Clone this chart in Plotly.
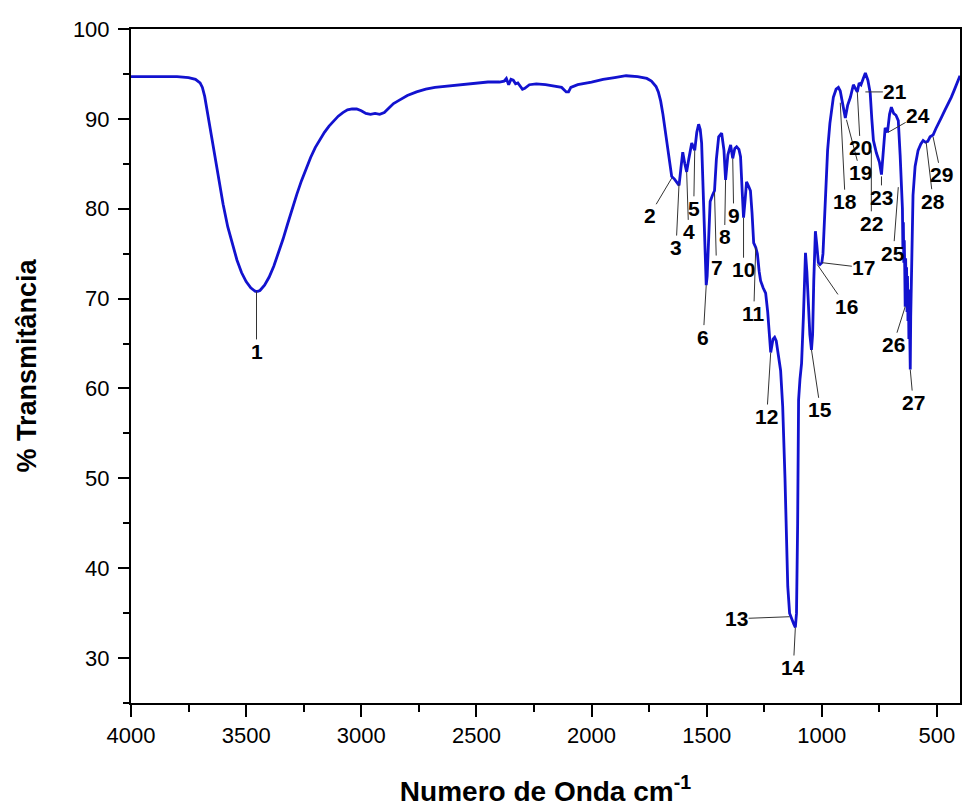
import plotly.graph_objects as go

# ---- spectrum data (wavenumber cm^-1, % transmittance) ----
wavenumber = [4000, 3950, 3900, 3850, 3800, 3750, 3720, 3700, 3690, 3680, 3670, 3660, 3650, 3640,
              3620, 3600, 3580, 3560, 3540, 3520, 3500, 3480, 3460, 3450, 3440, 3420, 3400, 3380,
              3360, 3340, 3320, 3300, 3280, 3260, 3240, 3220, 3200, 3180, 3160, 3140, 3120, 3100,
              3080, 3060, 3040, 3020, 3000, 2980, 2960, 2940, 2920, 2900, 2880, 2860, 2840, 2800,
              2760, 2720, 2680, 2640, 2600, 2560, 2500, 2450, 2400, 2380, 2370, 2360, 2350, 2340,
              2330, 2320, 2300, 2290, 2270, 2240, 2200, 2160, 2130, 2110, 2100, 2090, 2060, 2000,
              1950, 1900, 1850, 1800, 1760, 1740, 1720, 1710, 1700, 1690, 1680, 1670, 1660, 1652,
              1640, 1630, 1620, 1612, 1604, 1595, 1587, 1578, 1565, 1552, 1543, 1535, 1528, 1522,
              1515, 1508, 1502, 1498, 1492, 1485, 1475, 1466, 1458, 1448, 1435, 1425, 1418, 1408,
              1396, 1387, 1378, 1370, 1360, 1353, 1346, 1340, 1333, 1327, 1318, 1310, 1303, 1296,
              1287, 1280, 1272, 1266, 1255, 1244, 1235, 1228, 1222, 1212, 1205, 1198, 1190, 1179,
              1170, 1166, 1160, 1155, 1148, 1140, 1130, 1122, 1115, 1110, 1105, 1101, 1095, 1088,
              1080, 1075, 1071, 1065, 1060, 1052, 1045, 1040, 1035, 1028, 1022, 1015, 1008, 1000,
              995, 985, 975, 965, 950, 938, 928, 920, 910, 898, 888, 876, 863, 852, 846, 838, 830,
              820, 811, 800, 790, 783, 776, 763, 750, 741, 733, 725, 715, 706, 698, 688, 678, 668,
              660, 655, 650, 648, 646, 644, 642, 640, 638, 636, 634, 632, 630, 628, 626, 624, 622,
              620, 618, 616, 614, 612, 608,
              604, 595, 582, 570, 560, 550, 540, 530, 517, 505, 495, 480, 465, 450, 438, 425, 415,
              408, 400]
transmittance = [94.7, 94.7, 94.7, 94.75, 94.7, 94.6, 94.4, 94.0, 93.5, 92.5, 91.2, 89.5, 88.0, 86.5,
                 83.5, 80.5, 78.0, 76.0, 74.3, 72.9, 71.9, 71.2, 70.8, 70.8, 70.9, 71.5, 72.4, 73.6,
                 75.0, 76.6, 78.3, 80.0, 81.6, 83.1, 84.5, 85.7, 86.8, 87.7, 88.5, 89.2, 89.8, 90.3,
                 90.7, 91.0, 91.1, 91.1, 90.9, 90.6, 90.5, 90.6, 90.5, 90.7, 91.2, 91.7, 92.0, 92.6,
                 93.0, 93.3, 93.5, 93.6, 93.7, 93.8, 94.0, 94.1, 94.1, 94.2, 94.5, 93.8, 94.4, 94.3,
                 93.9, 94.0, 93.3, 93.4, 93.8, 93.9, 93.8, 93.6, 93.5, 93.0, 93.0, 93.5, 93.8, 94.1,
                 94.4, 94.6, 94.8, 94.7, 94.5, 94.2, 93.6, 93.0, 92.0, 90.5, 88.8, 87.0, 85.0, 83.6,
                 83.3, 83.0, 82.6, 84.5, 86.3, 85.0, 84.1, 85.5, 87.3, 86.5, 88.5, 89.4, 88.8, 87.3,
                 82.0, 76.0, 71.5, 72.5, 77.0, 80.8, 81.5, 82.0, 85.5, 88.0, 88.4, 86.5, 83.2, 86.0,
                 87.1, 85.6, 86.7, 86.9, 86.6, 85.8, 82.0, 79.0, 81.0, 83.0, 82.5, 82.0, 79.5, 76.2,
                 75.7, 75.0, 73.0, 72.0, 71.2, 70.6, 68.5, 66.0, 64.0, 65.5, 65.7, 65.3, 64.0, 62.0,
                 58.0, 55.4, 50.0, 45.0, 38.0, 35.0, 34.2, 33.8, 33.4, 35.0, 45.0, 58.7, 61.0, 62.8,
                 68.0, 73.0, 75.1, 73.0, 70.0, 66.0, 64.3, 66.0, 72.0, 77.5, 76.0, 74.0, 73.8, 74.0,
                 75.0, 81.8, 86.5, 89.5, 92.4, 93.3, 93.5, 93.1, 91.5, 90.1, 91.5, 92.4, 93.8, 93.3,
                 93.0, 94.0, 93.8, 94.5, 95.1, 94.3, 92.9, 90.0, 87.6, 86.2, 85.2, 83.8, 86.0, 89.0,
                 88.5, 90.5, 91.3, 90.6, 90.4, 89.8, 86.0, 82.9, 80.0, 75.5, 78.5, 74.0, 76.5, 73.5,
                 69.1, 74.5, 70.5, 73.5, 68.5, 72.5, 67.5, 71.0, 65.5,
                 69.5, 64.0, 62.1, 68.0, 72.0, 78.0,
                 81.5, 84.7, 86.5, 87.2, 87.6, 87.4, 87.5, 88.0, 88.2, 88.9, 89.5, 90.2, 91.0, 91.7,
                 92.4, 93.2, 93.9, 94.3, 94.8]

# ---- labelled peaks ----
peak_labels = [str(i) for i in range(1, 30)]
peak_wn = [3455, 1652, 1620, 1587, 1552, 1502, 1466, 1418, 1387, 1340, 1287, 1222, 1140, 1115,
           1045, 1020, 1000, 920, 893, 846, 811, 785, 741, 712, 668, 638, 616, 547, 517]
peak_T = [70.8, 83.4, 82.8, 84.1, 86.5, 71.5, 81.8, 83.2, 85.6, 79.0, 75.7, 64.0, 34.6, 33.4,
          64.3, 73.8, 74.0, 91.8, 89.9, 93.0, 93.0, 86.5, 83.6, 88.5, 82.4, 69.1, 62.1, 87.4, 88.0]

# label text offsets (pixels) relative to the peak point
label_dx = [0, -22, -3, 2, -1, -3, 2, -1, 1, 0, -2, -4, -53, -2, 9, 29, 42, 5, 14, 3, 30, 0, 0, 30, -5, -12, 3, 7, 8]
label_dy = [60, 37, 64, 60, 58, 52, 75, 57, 57, 52, 66, 64, 2, 40, 60, 42, 5, 99, 53, 56, 0, 73, 21, -17, 66, 38, 33, 59, 38]

FONT = "Liberation Sans, Arial, sans-serif"

fig = go.Figure()
fig.add_trace(go.Scatter(x=wavenumber, y=transmittance, mode="lines",
                         line=dict(color="#1212CF", width=2.8), showlegend=False,
                         hoverinfo="skip"))

for lab, wx, ty, dx, dy in zip(peak_labels, peak_wn, peak_T, label_dx, label_dy):
    fig.add_annotation(x=wx, y=ty, text="<b>" + lab + "</b>", showarrow=True,
                       arrowhead=0, arrowwidth=1, arrowcolor="#333333",
                       ax=dx, ay=dy, standoff=0, startstandoff=0,
                       font=dict(family=FONT, size=21, color="black"),
                       borderpad=0)

axis_font = dict(family=FONT, size=22, color="black")
fig.update_layout(
    width=964, height=807,
    margin=dict(l=131, r=2, t=29, b=104),
    paper_bgcolor="white", plot_bgcolor="white",
    xaxis=dict(range=[4000, 400], dtick=500, tick0=0, showgrid=False, zeroline=False,
               showline=True, linecolor="black", linewidth=2, mirror=True,
               ticks="outside", ticklen=12, tickwidth=2, tickcolor="black",
               minor=dict(dtick=250, tick0=0, ticks="outside", ticklen=7, tickwidth=2, tickcolor="black", showgrid=False),
               tickfont=axis_font,
               title=dict(text="<b>Numero de Onda cm<sup>-1</sup></b>", standoff=36,
                          font=dict(family=FONT, size=28, color="black"))),
    yaxis=dict(range=[25, 100], dtick=10, tick0=0, showgrid=False, zeroline=False,
               showline=True, linecolor="black", linewidth=2, mirror=True,
               ticks="outside", ticklen=11, tickwidth=2, tickcolor="black",
               ticklabelstandoff=4,
               minor=dict(dtick=5, tick0=0, ticks="outside", ticklen=6, tickwidth=2, tickcolor="black", showgrid=False),
               tickfont=axis_font,
               title=dict(text="<b>% Transmitância</b>", standoff=28,
                          font=dict(family=FONT, size=27, color="black"))),
)

fig.write_html("out.html")
